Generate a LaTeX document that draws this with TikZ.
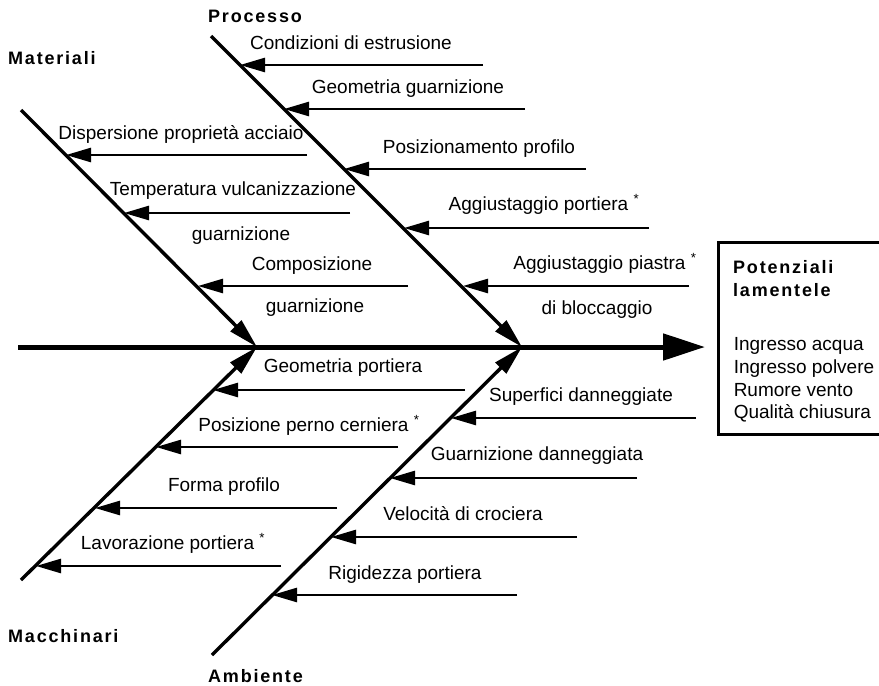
\documentclass[tikz,border=0pt]{standalone}
\usepackage{fontspec}
\setmainfont{Liberation Sans}
\newfontfamily\headfont[LetterSpace=10,BoldFont={Liberation Sans Bold}]{Liberation Sans}
\usepackage{tikz}
\usetikzlibrary{positioning,arrows.meta}

\begin{document}
\begin{tikzpicture}[x=1pt,y=-1pt,
  spine/.style={line width=5pt,-{Triangle[length=42pt,width=26pt]}},
  bone/.style={line width=3.4pt,-{Triangle[length=30pt,width=15pt]}},
  cause/.style={line width=2.6pt,-{Triangle[length=25pt,width=14pt]}},
  lbl/.style={font=\fontsize{19}{22.7}\selectfont,inner sep=0pt,anchor=base},
  head/.style={font=\fontsize{18}{23}\headfont\bfseries,inner sep=0pt,anchor=base west}]
\useasboundingbox (0,0) rectangle (879,686);

% spine and effect
\coordinate (sp-a) at (18,347);
\coordinate (sp-b) at (705,347);
\coordinate (j1) at (257,347);
\coordinate (j2) at (522,347);
\draw[spine] (sp-a) -- (sp-b);
\node[draw,line width=3pt,anchor=north west,minimum width=172pt,minimum height=192pt] (eff) at (717,241) {};
\node[head,anchor=north west,align=left] (eff-t) at (733,260) {Potenziali\\lamentele};
\node[lbl,anchor=center,align=left] (eff-l) at (804,380) {Ingresso acqua\\Ingresso polvere\\Rumore vento\\Qualità chiusura};

% bones
\coordinate (mat) at (21,110);
\coordinate (pro) at (211,36);
\coordinate (mac) at (21,580);
\coordinate (amb) at (212,655);
\draw[bone] (mat) -- (j1);
\draw[bone] (pro) -- (j2);
\draw[bone] (mac) -- (j1);
\draw[bone] (amb) -- (j2);
\node[head] (mat-t) at (8,64) {Materiali};
\node[head] (pro-t) at (208,22) {Processo};
\node[head] (mac-t) at (8,642) {Macchinari};
\node[head] (amb-t) at (208,682) {Ambiente};

% Processo
\coordinate (p1r) at (483,65);  \coordinate (p1l) at (240,65);
\coordinate (p2r) at (525,109); \coordinate (p2l) at (284,109);
\coordinate (p3r) at (586,169); \coordinate (p3l) at (344,169);
\coordinate (p4r) at (649,228); \coordinate (p4l) at (404,228);
\coordinate (p5r) at (689,286); \coordinate (p5l) at (463,286);
\draw[cause] (p1r) -- (p1l);
\draw[cause] (p2r) -- (p2l);
\draw[cause] (p3r) -- (p3l);
\draw[cause] (p4r) -- (p4l);
\draw[cause] (p5r) -- (p5l);
\node[lbl] (p1) at (351,49) {Condizioni di estrusione};
\node[lbl] (p2) at (408,93) {Geometria guarnizione};
\node[lbl] (p3) at (479,153) {Posizionamento profilo};
\node[lbl] (p4) at (544,210) {Aggiustaggio portiera \textsuperscript{*}};
\node[lbl] (p5) at (605,269) {Aggiustaggio piastra \textsuperscript{*}};
\node[lbl] (p5b) at (597,314) {di bloccaggio};

% Materiali
\coordinate (m1r) at (307,155); \coordinate (m1l) at (66,155);
\coordinate (m2r) at (350,213); \coordinate (m2l) at (124,213);
\coordinate (m3r) at (408,286); \coordinate (m3l) at (198,286);
\draw[cause] (m1r) -- (m1l);
\draw[cause] (m2r) -- (m2l);
\draw[cause] (m3r) -- (m3l);
\node[lbl] (m1) at (181,139) {Dispersione proprietà acciaio};
\node[lbl] (m2) at (233,195) {Temperatura vulcanizzazione};
\node[lbl] (m2b) at (241,240) {guarnizione};
\node[lbl] (m3) at (312,270) {Composizione};
\node[lbl] (m3b) at (315,312) {guarnizione};

% Macchinari
\coordinate (k1r) at (465,390); \coordinate (k1l) at (213,390);
\coordinate (k2r) at (398,447); \coordinate (k2l) at (156,447);
\coordinate (k3r) at (337,508); \coordinate (k3l) at (95,508);
\coordinate (k4r) at (281,566); \coordinate (k4l) at (36,566);
\draw[cause] (k1r) -- (k1l);
\draw[cause] (k2r) -- (k2l);
\draw[cause] (k3r) -- (k3l);
\draw[cause] (k4r) -- (k4l);
\node[lbl] (k1) at (343,372) {Geometria portiera};
\node[lbl] (k2) at (309,431) {Posizione perno cerniera \textsuperscript{*}};
\node[lbl] (k3) at (224,491) {Forma profilo};
\node[lbl] (k4) at (173,549) {Lavorazione portiera \textsuperscript{*}};

% Ambiente
\coordinate (a1r) at (696,418); \coordinate (a1l) at (451,418);
\coordinate (a2r) at (637,478); \coordinate (a2l) at (390,478);
\coordinate (a3r) at (577,537); \coordinate (a3l) at (331,537);
\coordinate (a4r) at (517,595); \coordinate (a4l) at (272,595);
\draw[cause] (a1r) -- (a1l);
\draw[cause] (a2r) -- (a2l);
\draw[cause] (a3r) -- (a3l);
\draw[cause] (a4r) -- (a4l);
\node[lbl] (a1) at (581,401) {Superfici danneggiate};
\node[lbl] (a2) at (537,460) {Guarnizione danneggiata};
\node[lbl] (a3) at (463,520) {Velocità di crociera};
\node[lbl] (a4) at (405,579) {Rigidezza portiera};

\end{tikzpicture}
\end{document}
